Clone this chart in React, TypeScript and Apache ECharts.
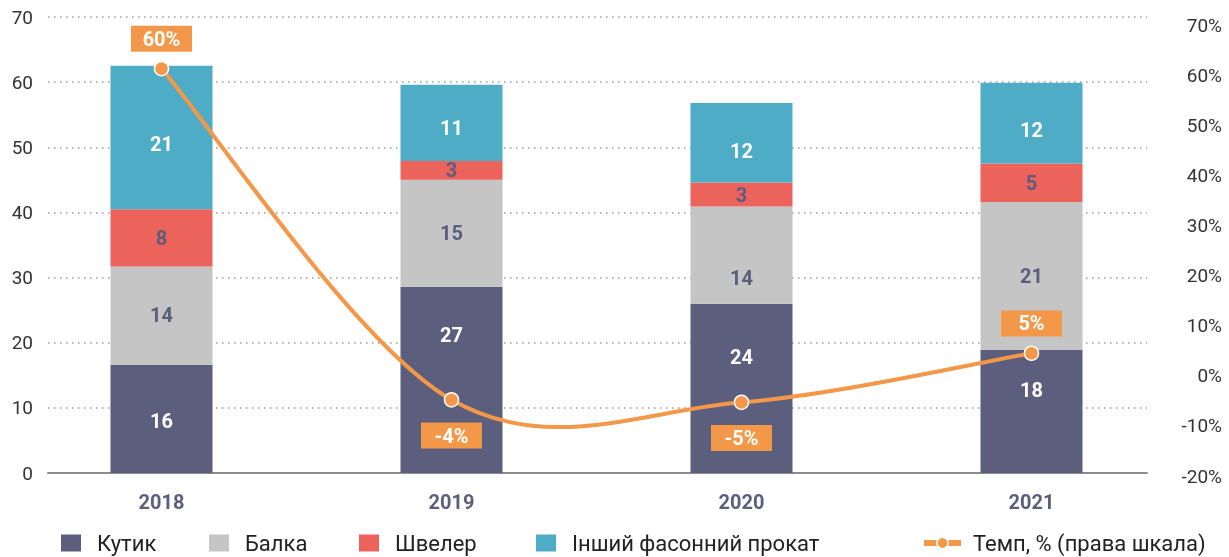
import React, { useEffect, useRef } from "react";
import * as echarts from "echarts";

const years = ["2018", "2019", "2020", "2021"];
// segment heights as drawn
const kutyk = [16.6, 28.6, 26.0, 18.9];
const balka = [15.1, 16.4, 14.9, 22.7];
const shveler = [8.8, 2.9, 3.7, 5.9];
const inshyi = [22.0, 11.7, 12.2, 12.4];
// printed labels
const kutykLabels = [16, 27, 24, 18];
const balkaLabels = [14, 15, 14, 21];
const shvelerLabels = [8, 3, 3, 5];
const inshyiLabels = [21, 11, 12, 12];
// growth rate, % (right scale)
const tempo = [61.3, -4.8, -5.3, 4.5];
const tempoLabels = [60, -4, -5, 5];

// layout only: vertical nudges of the in-bar labels (px)
const NUDGE_KUT = [2, -45, -31, -21];
const NUDGE_BAL = [-1, 0, 23, 0];
const NUDGE_SHV = [0, 0, 0, 0];
const NUDGE_INS = [6, 5, 8, 7];
const TEMP_POS = ["top", "bottom", "bottom", "top"];

const FONT = "Roboto";
const C_KUT = "#5c5e7e";
const C_BAL = "#c5c5c5";
const C_SHV = "#eb635a";
const C_INS = "#4eacc6";
const C_TEMP = "#f39749";
const TEMP_NAME = "Темп, % (права шкала)";

export default function App() {
  const ref = useRef<HTMLDivElement>(null);
  useEffect(() => {
    if (!ref.current) return;
    const chart = echarts.init(ref.current, null, { renderer: "svg" });
    const barSeries = (
      name: string,
      vals: number[],
      labels: number[],
      nudge: number[],
      color: string,
      labelColor: string
    ) => ({
      type: "bar",
      name,
      stack: "total",
      xAxisIndex: 0,
      yAxisIndex: 0,
      barWidth: 102,
      data: vals.map((v, i) => ({ value: v, label: { offset: [0, nudge[i]] } })),
      itemStyle: { color },
      label: {
        show: true,
        position: "inside",
        color: labelColor,
        fontFamily: FONT,
        fontSize: 20,
        fontWeight: "bold",
        formatter: (p: any) => String(labels[p.dataIndex]),
      },
    });
    const legendBase = (name: any, left: number, extra: any = {}) => ({
      data: [name],
      left,
      top: 527,
      itemGap: 0,
      selectedMode: false,
      icon: "rect",
      itemWidth: 20,
      itemHeight: 17,
      textStyle: { fontFamily: FONT, fontSize: 22, color: "#222", padding: [0, 0, 0, 11] },
      ...extra,
    });
    chart.setOption({
      animation: false,
      grid: [
        { left: 16.5, right: 52.5, top: 17, bottom: 84 },
        { left: 16.5, right: 52.5, top: 25, bottom: 81 },
        { left: 48, right: 82, top: 17, bottom: 84 },
      ],
      legend: [
        legendBase("Кутик", 56),
        legendBase("Балка", 204),
        legendBase("Швелер", 354),
        legendBase("Інший фасонний прокат", 531),
        legendBase(
          {
            name: TEMP_NAME,
            lineStyle: { color: C_TEMP, width: 6, opacity: 1 },
            itemStyle: { color: C_TEMP, borderColor: "#fff", borderWidth: 1.5 },
          },
          916,
          {
            icon: undefined,
            itemWidth: 37,
            itemHeight: 14,
            textStyle: { fontFamily: FONT, fontSize: 22, color: "#222", padding: [0, 0, 0, 7] },
          }
        ),
      ],
      xAxis: [
        {
          type: "category",
          gridIndex: 0,
          data: years,
          axisLine: { show: false },
          axisTick: { show: false },
          axisLabel: {
            color: C_KUT,
            fontFamily: FONT,
            fontSize: 20,
            fontWeight: "bold",
            margin: 19,
          },
        },
        { type: "category", gridIndex: 1, data: years, show: false },
        {
          type: "value",
          gridIndex: 2,
          min: 0,
          max: 1,
          axisLine: { show: true, lineStyle: { color: "#8c8c8c", width: 2 } },
          axisTick: { show: false },
          axisLabel: { show: false },
          splitLine: { show: false },
        },
      ],
      yAxis: [
        { type: "value", gridIndex: 0, min: 0, max: 70, interval: 10, show: false },
        {
          type: "value",
          gridIndex: 1,
          position: "right",
          min: -20,
          max: 70,
          interval: 10,
          axisLine: { show: false },
          axisTick: { show: false },
          splitLine: { show: false },
          axisLabel: {
            formatter: "{value}%",
            align: "right",
            margin: 45.5,
            color: "#333",
            fontFamily: FONT,
            fontSize: 19,
          },
        },
        {
          type: "value",
          gridIndex: 2,
          min: 0,
          max: 70,
          interval: 10,
          axisLine: { show: false },
          axisTick: { show: false },
          splitLine: { lineStyle: { color: "#9a9a9a", width: 1.5, type: [1.5, 4.5] } },
          axisLabel: { color: "#333", fontFamily: FONT, fontSize: 19, margin: 15 },
        },
      ],
      series: [
        barSeries("Кутик", kutyk, kutykLabels, NUDGE_KUT, C_KUT, "#ffffff"),
        barSeries("Балка", balka, balkaLabels, NUDGE_BAL, C_BAL, C_KUT),
        barSeries("Швелер", shveler, shvelerLabels, NUDGE_SHV, C_SHV, C_KUT),
        barSeries("Інший фасонний прокат", inshyi, inshyiLabels, NUDGE_INS, C_INS, "#ffffff"),
        {
          type: "custom",
          name: "curve",
          xAxisIndex: 1,
          yAxisIndex: 1,
          z: 9,
          silent: true,
          data: tempo.map((v, i) => [i, v]),
          renderItem: (params: any, api: any) => {
            if (params.dataIndex !== 0) return null;
            const n = params.dataInsideLength ?? tempo.length;
            const pts: number[][] = [];
            for (let j = 0; j < n; j++) {
              pts.push(api.coord([api.value(0, j), api.value(1, j)]));
            }
            let d = `M${pts[0][0]},${pts[0][1]}`;
            for (let j = 0; j < pts.length - 1; j++) {
              const p0 = pts[Math.max(0, j - 1)];
              const p1 = pts[j];
              const p2 = pts[j + 1];
              const p3 = pts[Math.min(pts.length - 1, j + 2)];
              const c1x = p1[0] + (p2[0] - p0[0]) / 6;
              const c1y = p1[1] + (p2[1] - p0[1]) / 6;
              const c2x = p2[0] - (p3[0] - p1[0]) / 6;
              const c2y = p2[1] - (p3[1] - p1[1]) / 6;
              d += ` C${c1x},${c1y} ${c2x},${c2y} ${p2[0]},${p2[1]}`;
            }
            return {
              type: "path",
              shape: { pathData: d },
              style: { fill: "none", stroke: C_TEMP, lineWidth: 4 },
            };
          },
        },
        {
          type: "line",
          name: TEMP_NAME,
          xAxisIndex: 1,
          yAxisIndex: 1,
          z: 10,
          symbol: "circle",
          symbolSize: 14,
          lineStyle: { color: C_TEMP, width: 4, opacity: 0 },
          itemStyle: { color: C_TEMP, borderColor: "#ffffff", borderWidth: 1.5 },
          data: tempo.map((v, i) => ({
            value: v,
            label: { position: TEMP_POS[i], distance: TEMP_POS[i] === "top" ? 9 : 15 },
          })),
          label: {
            show: true,
            formatter: (p: any) => tempoLabels[p.dataIndex] + "%",
            backgroundColor: C_TEMP,
            color: "#ffffff",
            fontFamily: FONT,
            fontSize: 20,
            fontWeight: "bold",
            width: 61,
            height: 26,
            lineHeight: 26,
            align: "center",
            padding: 0,
          },
        },
      ],
    });
    return () => chart.dispose();
  }, []);
  return <div ref={ref} style={{ position: "fixed", left: 0, top: 0, width: 1229, height: 557 }} />;
}
